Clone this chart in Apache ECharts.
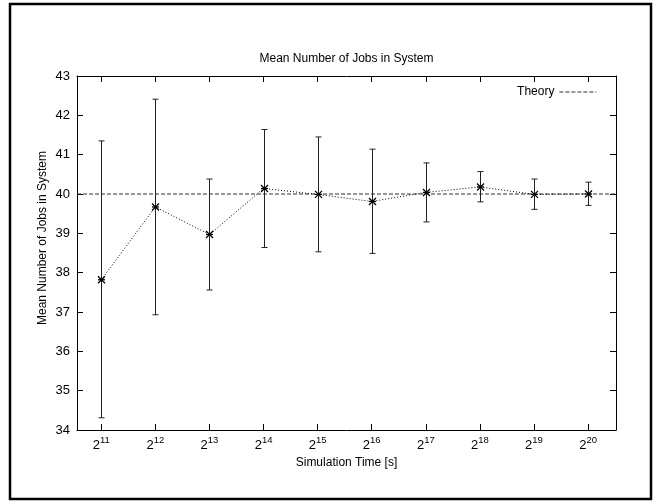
<!DOCTYPE html>
<html>
<head>
<meta charset="utf-8">
<script src="https://cdn.jsdelivr.net/npm/echarts@6/dist/echarts.min.js"></script>
<style>html,body{margin:0;padding:0;background:#fff;}#c{width:662px;height:504px;}</style>
</head>
<body>
<div id="c"></div>
<script>
// Data (x given as base-2 exponent of simulation time in seconds)
const exponents = [11, 12, 13, 14, 15, 16, 17, 18, 19, 20];
const meanJobs  = [37.82, 39.67, 38.97, 40.14, 39.99, 39.81, 40.04, 40.18, 39.99, 40.00];
const ciLower   = [34.31, 36.93, 37.56, 38.64, 38.53, 38.49, 39.29, 39.80, 39.61, 39.71];
const ciUpper   = [41.35, 42.41, 40.38, 41.64, 41.45, 41.14, 40.79, 40.57, 40.38, 40.30];
const theoryValue = 40;
const yTicks = [34, 35, 36, 37, 38, 39, 40, 41, 42, 43];

const xAxisMin = Math.log2(1500);
const xAxisMax = Math.log2(1500000);

const FONT = '"Liberation Sans", Arial, Helvetica, sans-serif';

const pointData = exponents.map((e, i) => [e, meanJobs[i]]);
const errData = exponents.map((e, i) => [e, meanJobs[i], ciLower[i], ciUpper[i]]);

const chart = echarts.init(document.getElementById('c'), null, {renderer: 'canvas'});

const tickStyle = {show: true, inside: true, length: 6, lineStyle: {color: '#000', width: 1}};

chart.setOption({
  animation: false,
  backgroundColor: '#fff',
  textStyle: {fontFamily: FONT},
  grid: {left: 77, right: 46, top: 76, bottom: 74, show: false},
  legend: {
    data: ['Theory'],
    right: 60, top: 81,
    align: 'right',
    itemWidth: 37, itemHeight: 10,
    itemStyle: {color: 'rgba(0,0,0,0)', borderWidth: 0, opacity: 0},
    lineStyle: {color: '#333', width: 1.2, type: [4, 2], opacity: 1},
    textStyle: {fontFamily: FONT, fontSize: 12, color: '#000'},
    selectedMode: false
  },
  xAxis: [{
    type: 'value',
    min: xAxisMin, max: xAxisMax,
    position: 'bottom',
    axisLine: {show: true, onZero: false, lineStyle: {color: '#000', width: 1}},
    axisTick: Object.assign({customValues: exponents}, tickStyle),
    splitLine: {show: false},
    axisLabel: {
      customValues: exponents,
      margin: 6,
      color: '#000',
      fontFamily: FONT,
      formatter: v => '{b|2}{s|' + v + '}',
      rich: {
        b: {fontSize: 13, fontFamily: FONT, color: '#000', verticalAlign: 'bottom', lineHeight: 16},
        s: {fontSize: 9.5, fontFamily: FONT, color: '#000', verticalAlign: 'bottom', padding: [0, 0, 7, 0], lineHeight: 16}
      }
    },
    name: 'Simulation Time [s]',
    nameLocation: 'middle',
    nameGap: 23,
    nameTextStyle: {fontFamily: FONT, fontSize: 12, color: '#000'}
  }, {
    type: 'value',
    min: xAxisMin, max: xAxisMax,
    position: 'top',
    axisLine: {show: true, onZero: false, lineStyle: {color: '#000', width: 1}},
    axisTick: Object.assign({customValues: exponents}, tickStyle),
    axisLabel: {show: false},
    splitLine: {show: false}
  }],
  yAxis: [{
    type: 'value',
    min: 34, max: 43, interval: 1,
    position: 'left',
    axisLine: {show: true, onZero: false, lineStyle: {color: '#000', width: 1}},
    axisTick: Object.assign({customValues: yTicks}, tickStyle),
    splitLine: {show: false},
    axisLabel: {customValues: yTicks, margin: 7, color: '#000', fontSize: 13, fontFamily: FONT}
  }, {
    type: 'value',
    min: 34, max: 43, interval: 1,
    position: 'right',
    axisLine: {show: true, onZero: false, lineStyle: {color: '#000', width: 1}},
    axisTick: Object.assign({customValues: yTicks}, tickStyle),
    axisLabel: {show: false},
    splitLine: {show: false}
  }],
  graphic: [
    {type: 'rect', shape: {x: 10, y: 4, width: 641, height: 495},
     style: {fill: 'none', stroke: '#000', lineWidth: 2.5}, silent: true},
    {type: 'text', x: 346.5, y: 59,
     style: {text: 'Mean Number of Jobs in System', font: '12px ' + FONT, fill: '#000', textAlign: 'center', textVerticalAlign: 'middle'}},
    {type: 'text', x: 43, y: 238, rotation: Math.PI / 2,
     style: {text: 'Mean Number of Jobs in System', font: '12px ' + FONT, fill: '#000', textAlign: 'center', textVerticalAlign: 'middle'}}
  ],
  series: [
    {
      name: 'Theory',
      type: 'line',
      data: [[xAxisMin, theoryValue], [xAxisMax, theoryValue]],
      symbol: 'none',
      showSymbol: false,
      lineStyle: {color: '#333', width: 1.2, type: [4, 2]},
      itemStyle: {color: '#333'},
      z: 2
    },
    {
      name: 'Simulation',
      type: 'line',
      data: pointData,
      symbol: 'none',
      lineStyle: {color: '#000', width: 1, type: [1, 2]},
      z: 3
    },
    {
      name: 'Errors',
      type: 'custom',
      data: errData,
      z: 4,
      renderItem: function (params, api) {
        const x = api.value(0);
        const m = api.coord([x, api.value(1)]);
        const lo = api.coord([x, api.value(2)]);
        const hi = api.coord([x, api.value(3)]);
        const cx = Math.round(m[0]) + 0.5;
        const cap = 3;
        const s = 3.5;
        const ls = {stroke: '#222', lineWidth: 1};
        const ps = {stroke: '#000', lineWidth: 1.3};
        return {
          type: 'group',
          children: [
            {type: 'line', shape: {x1: cx, y1: lo[1], x2: cx, y2: hi[1]}, style: ls},
            {type: 'line', shape: {x1: cx - cap, y1: lo[1], x2: cx + cap, y2: lo[1]}, style: ls},
            {type: 'line', shape: {x1: cx - cap, y1: hi[1], x2: cx + cap, y2: hi[1]}, style: ls},
            {type: 'line', shape: {x1: cx - s, y1: m[1] - s, x2: cx + s, y2: m[1] + s}, style: ps},
            {type: 'line', shape: {x1: cx - s, y1: m[1] + s, x2: cx + s, y2: m[1] - s}, style: ps},
            {type: 'line', shape: {x1: cx - s, y1: m[1], x2: cx + s, y2: m[1]}, style: ps}
          ]
        };
      }
    }
  ]
});
</script>
</body>
</html>
